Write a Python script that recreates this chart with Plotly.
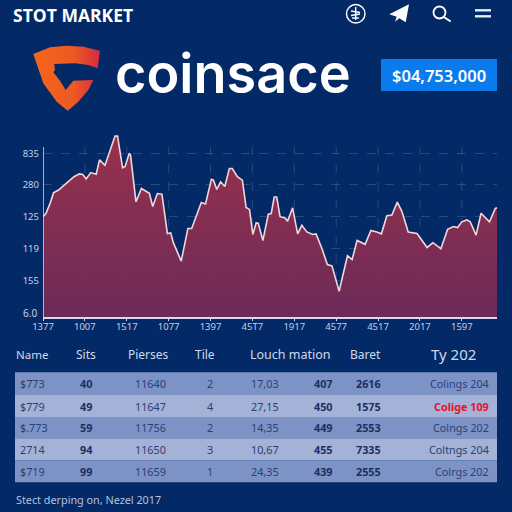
import plotly.graph_objects as go

# chart line (tick labels in the source are unreadable, so values are on a nominal scale)
pos = [0, 0.7, 1.7, 2.5, 3.7, 4.9, 6.1, 7.4, 8.7, 9.5, 10.3, 11.4, 12.7, 13.5, 14.8, 16.0, 17.2, 17.8, 19.0, 19.6,
       20.6, 20.9, 22.2, 23.5, 25.4, 26.2, 27.3, 28.4, 29.7, 30.5, 31.1, 33.0, 34.6, 35.5, 37.8, 38.8, 40.2, 40.7,
       41.5, 42.4, 43.4, 44.5, 45.2, 46.4, 47.6, 48.5, 49.3, 50.1, 50.9, 51.4, 52.5, 53.8, 54.5, 55.2, 55.8, 56.6,
       57.8, 58.4, 59.6, 60.8, 61.8, 63.0, 64.4, 65.2, 66.6, 67.9, 69.0, 70.7, 72.7, 73.8, 75.0, 76.9, 78.3, 79.7,
       80.8, 82.1, 83.3, 84.6, 85.7, 87.2, 89.3, 91.7, 93.1, 95.0, 96.6, 98.0, 99.0, 100.0, 101.2, 102.0, 103.4,
       104.6, 106.6, 108.0, 108.4]
price = [300, 310, 342, 375, 384, 398, 410, 426, 435, 433, 419, 439, 434, 479, 462, 510, 554, 554, 454, 458,
         500, 494, 347, 389, 374, 332, 373, 371, 247, 249, 219, 160, 263, 263, 345, 340, 418, 415,
         386, 410, 395, 452, 452, 426, 415, 329, 323, 244, 281, 279, 225, 308, 310, 362, 362, 300,
         296, 286, 328, 246, 273, 252, 244, 246, 200, 149, 145, 65, 177, 165, 225, 213, 257, 252,
         246, 303, 305, 346, 316, 252, 247, 203, 218, 199, 260, 269, 266, 284, 290, 284, 242,
         311, 284, 326, 328]

x_ticks = [0, 10, 20, 30, 40, 50, 60, 70, 80, 90, 100]
x_labels = ["1377", "1007", "1517", "1077", "1397", "45T7", "1917", "4577", "4517", "2017", "1597"]
y_ticks = [100, 200, 300, 400, 500]
y_labels = ["155", "119", "125", "280", "835"]

# table columns
names = ["$773", "$779", "$.773", "2714", "$719"]
sits = ["40", "49", "59", "94", "99"]
pierses = ["11640", "11647", "11756", "11650", "11659"]
tile = ["2", "4", "2", "3", "1"]
louch = ["17,03", "27,15", "14,35", "10,67", "24,35"]
col_six = ["407", "450", "449", "455", "439"]
baret = ["2616", "1575", "2553", "7335", "2555"]
college = ["Colings 204", "Colige 109", "Colngs 202", "Coltngs 204", "Colrgs 202"]

bg = "#032a66"
row_a = "#7d93c6"
row_b = "#a3b2d6"
dark = "#1a2f63"
soft = "#2b3f75"
y_floor = -16
y_top = 519.6


# all page furniture is placed in page pixels, y from the top
def px(x):
    return x / 512


def py(y):
    return 1 - y / 512


fig = go.Figure()

# floor trace so the fill reaches the bottom of the axis
fig.add_trace(go.Scatter(x=pos, y=[y_floor] * len(pos), mode="lines", line=dict(width=0), hoverinfo="skip"))
fig.add_trace(go.Scatter(
    x=pos, y=price, mode="lines", fill="tonexty",
    line=dict(color="#f2d6d8", width=1.6),
    fillgradient=dict(type="vertical", colorscale=[[0, "rgba(114,42,88,0.94)"], [1, "rgba(162,50,74,0.94)"]]),
))

# logo sits on a hidden pixel axis
logo_x = [33.3, 50, 66.7, 83.3, 100, 97.7, 88.3, 75, 54.3, 55, 53.3, 60, 65.7, 73.3, 93.3, 88.3, 78.3, 67.7, 56.7, 43.3, 33.3]
logo_y = [54, 47.3, 45.7, 46.7, 50.7, 68.3, 65, 63.3, 64, 70, 72.3, 80.7, 90, 80.7, 80, 90, 101.7, 110.7, 101.7, 83.3, 54]
fig.add_trace(go.Scatter(
    x=logo_x, y=logo_y, xaxis="x2", yaxis="y2", mode="lines", fill="toself", line=dict(width=0),
    fillgradient=dict(type="horizontal", colorscale=[[0, "#f4661c"], [0.6, "#ee5a22"], [1, "#d42a42"]]),
))


def label(text, x, y, size, color="#ffffff", anchor="left", family="Noto Sans", weight=None):
    fig.add_annotation(text=text, x=px(x), y=py(y), xref="paper", yref="paper", showarrow=False, xanchor=anchor,
                       yanchor="middle", font=dict(family=family, size=size, color=color, weight=weight))


label("STOT MARKET", 11, 15, 17.5, weight=700, family="Open Sans")
label("coinsace", 113, 73, 54, weight=600, family="Inter")
label("$04,753,000", 439, 75, 16.5, anchor="center", weight=600)
label("6.0", 30, 313, 10, color="#c4cfe6", anchor="center")
label("Name", 14, 354, 11.5, color="#d0d9ec")
label("Sits", 86, 354, 12, color="#d0d9ec", anchor="center")
label("Pierses", 148, 354, 12, color="#d0d9ec", anchor="center")
label("Tile", 205, 354, 12, color="#d0d9ec", anchor="center")
label("Louch mation", 290, 354, 12.5, color="#d0d9ec", anchor="center")
label("Baret", 365, 354, 12, color="#d0d9ec", anchor="center")
label("Ty 202", 453, 354, 15, color="#d0d9ec", anchor="center")
label("Stect derping on, Nezel 2017", 14, 499, 10.8, color="#b4c1df")

# table body
columns = [(names, 18, "left", None), (sits, 86, "center", 700), (pierses, 150, "center", None), (tile, 210, "center", None),
           (louch, 265, "center", None), (col_six, 323, "center", 700), (baret, 368, "center", 700), (college, 491, "right", None)]
row_edges = [372.3, 395, 417, 438.3, 460.3, 482.3]
shapes = []
for i in range(5):
    shapes.append(dict(type="rect", xref="paper", yref="paper", x0=px(15), x1=px(497), y0=py(row_edges[i]), y1=py(row_edges[i + 1]),
                       fillcolor=row_a if i % 2 == 0 else row_b, line_width=0, layer="below"))
    mid = (row_edges[i] + row_edges[i + 1]) / 2
    for values, cx, anchor, weight in columns:
        hot = values[i] == "Colige 109"
        tone = "#e8102a" if hot else (dark if weight else soft)
        label(values[i], cx, mid, 10.8, color=tone, anchor=anchor, weight=700 if hot else weight)


def pxpath(points):
    return "M" + " L".join(str(px(a)) + "," + str(py(b)) for a, b in points)


white = dict(color="#ffffff", width=1.4)
icon = dict(xref="paper", yref="paper")
shapes += [
    dict(type="rect", x0=px(381), x1=px(497), y0=py(59), y1=py(91), fillcolor="#0a7bec", line_width=0, layer="below", **icon),
    dict(type="circle", x0=px(346.5), x1=px(365), y0=py(4.5), y1=py(23), line=white, **icon),
    dict(type="line", x0=px(355.7), x1=px(355.7), y0=py(7), y1=py(20), line=white, **icon),
    dict(type="line", x0=px(351), x1=px(360), y0=py(11), y1=py(12.5), line=white, **icon),
    dict(type="line", x0=px(351), x1=px(360), y0=py(15.5), y1=py(14), line=white, **icon),
    dict(type="line", x0=px(352), x1=px(359), y0=py(18), y1=py(18), line=white, **icon),
    dict(type="path", path=pxpath([(409, 4.3), (389.3, 14.3), (396.7, 16.7), (395, 21.7), (399.3, 18.3), (405.7, 22.3)]) + " Z",
         fillcolor="#ffffff", line_width=0, **icon),
    dict(type="circle", x0=px(433.5), x1=px(445.5), y0=py(6.5), y1=py(18.5), line=dict(color="#ffffff", width=1.8), **icon),
    dict(type="line", x0=px(443.8), y0=py(17), x1=px(450.7), y1=py(21.5), line=dict(color="#ffffff", width=2), **icon),
    dict(type="line", x0=px(475), x1=px(491), y0=py(10.3), y1=py(10.3), line=dict(color="#e8edf6", width=2.4), **icon),
    dict(type="line", x0=px(475), x1=px(491), y0=py(16.3), y1=py(16.3), line=dict(color="#e8edf6", width=2.4), **icon),
]

grid = "rgba(125,155,205,0.28)"
axis_line = "#d4dcee"
tick_font = dict(family="Noto Sans", size=9.5, color="#c4cfe6")

# plot area runs above the axis so the peak is not cut; vertical grid and the y axis line stop at y_top
for t in x_ticks[1:]:
    shapes.append(dict(type="line", xref="x", yref="y", x0=t, x1=t, y0=y_floor, y1=y_top, layer="below",
                       line=dict(color=grid, width=1, dash="dash")))
shapes.append(dict(type="line", xref="x", yref="y", x0=0, x1=0, y0=y_floor, y1=y_top, line=dict(color=axis_line, width=1.5)))

fig.update_layout(
    width=512, height=512, margin=dict(l=0, r=0, t=0, b=0, autoexpand=False), showlegend=False,
    paper_bgcolor=bg, plot_bgcolor="rgba(0,0,0,0)", shapes=shapes,
    xaxis=dict(domain=[px(43), px(497)], range=[0, 108.4], tickvals=x_ticks, ticktext=x_labels, tickangle=0,
               showline=True, linecolor=axis_line, linewidth=1.5, ticks="outside", ticklen=2, tickcolor=axis_line,
               showgrid=False, zeroline=False, tickfont=tick_font, ticklabelstandoff=-2),
    yaxis=dict(domain=[py(317), py(130)], range=[y_floor, 573.2], tickvals=y_ticks, ticktext=y_labels,
               showline=False, ticks="", ticklabelstandoff=3,
               showgrid=True, gridcolor=grid, griddash="dash", gridwidth=1, zeroline=False, tickfont=tick_font),
    xaxis2=dict(domain=[0, 1], range=[0, 512], visible=False, anchor="y2"),
    yaxis2=dict(domain=[0, 1], range=[512, 0], visible=False, anchor="x2"),
)

fig.write_html("out.html", config={"displayModeBar": False},
               post_script="document.body.style.margin='0';document.body.style.background='" + bg + "';")
